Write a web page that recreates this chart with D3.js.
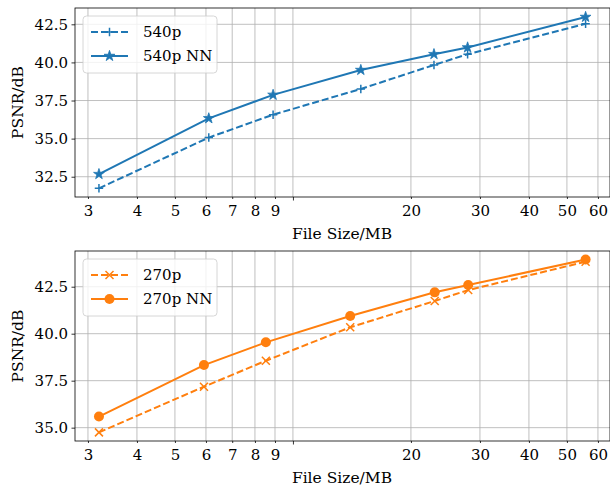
<!DOCTYPE html>
<html>
<head>
<meta charset="utf-8">
<script src="https://cdn.jsdelivr.net/npm/d3@7"></script>
<style>
  body { margin: 0; background: #fff; }
  svg text { font-family: "DejaVu Serif", "Liberation Serif", serif; fill: #000; }
</style>
</head>
<body>
<script>
// Values
var sizes540 = [3.2, 6.1, 8.9, 14.9, 22.9, 27.9, 55.8];
var psnr540 = [31.74, 35.07, 36.57, 38.26, 39.83, 40.54, 42.54];
var psnr540NN = [32.67, 36.33, 37.87, 39.5, 40.54, 40.98, 42.98];

var sizes270 = [3.2, 5.93, 8.53, 14.0, 23.0, 28.0, 55.8];
var psnr270 = [34.75, 37.18, 38.56, 40.34, 41.74, 42.32, 43.83];
var psnr270NN = [35.59, 38.33, 39.54, 40.94, 42.2, 42.59, 43.95];

var xTicks = [3, 4, 5, 6, 7, 8, 9, 10, 20, 30, 40, 50, 60];
var xTickLabels = ["3", "4", "5", "6", "7", "8", "9", "", "20", "30", "40", "50", "60"];
var yTicksTop = [32.5, 35.0, 37.5, 40.0, 42.5];
var yTicksBottom = [35.0, 37.5, 40.0, 42.5];

var svgWidth = 610;
var svgHeight = 489;

var svg = d3.select("body")
  .append("svg")
  .attr("width", svgWidth)
  .attr("height", svgHeight);

var dash = "7,3";
var lw = 2;

// draw one subplot
function drawPanel(opts) {
  var x = d3.scaleLog().domain([2.78, 64.4]).range([opts.left, opts.right]);
  var y = d3.scaleLinear().domain(opts.yDomain).range([opts.bottom, opts.top]);

  var g = svg.append("g");

  // grid
  g.selectAll(".gx").data(xTicks).enter().append("line")
    .attr("x1", d => x(d)).attr("x2", d => x(d))
    .attr("y1", opts.top).attr("y2", opts.bottom)
    .attr("stroke", "#b0b0b0").attr("stroke-width", 0.8);
  g.selectAll(".gy").data(opts.yTicks).enter().append("line")
    .attr("x1", opts.left).attr("x2", opts.right)
    .attr("y1", d => y(d)).attr("y2", d => y(d))
    .attr("stroke", "#b0b0b0").attr("stroke-width", 0.8);

  // x axis
  var xAxis = d3.axisBottom(x)
    .tickValues(xTicks)
    .tickSize(0)
    .tickPadding(0)
    .tickFormat((d, i) => xTickLabels[i]);
  var xg = g.append("g")
    .attr("transform", `translate(0, ${opts.bottom})`)
    .call(xAxis);
  xg.select(".domain").remove();
  xg.selectAll(".tick line")
    .attr("y2", d => d === 10 ? 3.5 : 2)
    .attr("stroke", "#000").attr("stroke-width", 0.8);
  xg.selectAll(".tick text")
    .attr("y", 8).attr("dy", "0.71em")
    .style("font-size", "15px");

  // y axis
  var yAxis = d3.axisLeft(y)
    .tickValues(opts.yTicks)
    .tickSize(3.5)
    .tickPadding(3.5)
    .tickFormat(d3.format(".1f"));
  var yg = g.append("g")
    .attr("transform", `translate(${opts.left}, 0)`)
    .call(yAxis);
  yg.select(".domain").remove();
  yg.selectAll(".tick line").attr("stroke", "#000").attr("stroke-width", 0.8);
  yg.selectAll(".tick text")
    .style("font-size", "15px");

  // lines
  var line = d3.line().x(d => x(d[0])).y(d => y(d[1]));
  var dashedData = d3.zip(opts.xs, opts.dashed);
  var solidData = d3.zip(opts.xs, opts.solid);

  g.append("path").datum(dashedData)
    .attr("d", line).attr("fill", "none")
    .attr("stroke", opts.color).attr("stroke-width", lw)
    .attr("stroke-dasharray", dash);
  g.append("path").datum(solidData)
    .attr("d", line).attr("fill", "none")
    .attr("stroke", opts.color).attr("stroke-width", lw);

  function marker(sel, type) {
    if (type === "plus") {
      sel.append("path").attr("d", "M-4.2,0H4.2M0,-4.2V4.2")
        .attr("stroke", opts.color).attr("stroke-width", 1.5).attr("fill", "none");
    } else if (type === "x") {
      sel.append("path").attr("d", "M-4,-4L4,4M-4,4L4,-4")
        .attr("stroke", opts.color).attr("stroke-width", 1.5).attr("fill", "none");
    } else if (type === "star") {
      sel.append("path").attr("d", d3.symbol().type(d3.symbolStar).size(36)())
        .attr("fill", opts.color).attr("stroke", opts.color).attr("stroke-width", 0.8);
    } else {
      sel.append("circle").attr("r", 5).attr("fill", opts.color);
    }
  }

  var m1 = g.selectAll(".m1").data(dashedData).enter().append("g")
    .attr("transform", d => `translate(${x(d[0])}, ${y(d[1])})`);
  marker(m1, opts.dashedMarker);
  var m2 = g.selectAll(".m2").data(solidData).enter().append("g")
    .attr("transform", d => `translate(${x(d[0])}, ${y(d[1])})`);
  marker(m2, opts.solidMarker);

  // spines
  g.append("rect")
    .attr("x", opts.left).attr("y", opts.top)
    .attr("width", opts.right - opts.left).attr("height", opts.bottom - opts.top)
    .attr("fill", "none").attr("stroke", "#000").attr("stroke-width", 0.8);

  // axis labels
  g.append("text")
    .attr("x", 342).attr("y", opts.bottom + 42)
    .attr("text-anchor", "middle")
    .style("font-size", "15.5px")
    .text("File Size/MB");
  g.append("text")
    .attr("transform", `translate(23, ${(opts.top + opts.bottom) / 2}) rotate(-90)`)
    .attr("text-anchor", "middle")
    .style("font-size", "15.5px")
    .text("PSNR/dB");

  // legend
  var lg = g.append("g").attr("transform", `translate(83, ${opts.top + 8})`);
  lg.append("rect")
    .attr("width", 134).attr("height", 57).attr("rx", 3.5)
    .attr("fill", "#fff").attr("fill-opacity", 0.8)
    .attr("stroke", "#cccccc").attr("stroke-width", 0.8);
  var entries = [
    { label: opts.labels[0], dash: dash, marker: opts.dashedMarker, y: 16 },
    { label: opts.labels[1], dash: null, marker: opts.solidMarker, y: 40 }
  ];
  entries.forEach(function(e) {
    lg.append("line")
      .attr("x1", 8).attr("x2", 45).attr("y1", e.y).attr("y2", e.y)
      .attr("stroke", opts.color).attr("stroke-width", lw)
      .attr("stroke-dasharray", e.dash);
    var mk = lg.append("g").attr("transform", `translate(26.5, ${e.y})`);
    marker(mk, e.marker);
    lg.append("text")
      .attr("x", 60).attr("y", e.y).attr("dy", "0.35em")
      .style("font-size", "15px")
      .text(e.label);
  });
}

drawPanel({
  left: 75, right: 610, top: 8, bottom: 197,
  yDomain: [31.17, 43.57], yTicks: yTicksTop,
  xs: sizes540, dashed: psnr540, solid: psnr540NN,
  color: "#1f77b4", dashedMarker: "plus", solidMarker: "star",
  labels: ["540p", "540p NN"]
});

drawPanel({
  left: 75, right: 610, top: 251, bottom: 441,
  yDomain: [34.29, 44.4], yTicks: yTicksBottom,
  xs: sizes270, dashed: psnr270, solid: psnr270NN,
  color: "#ff7f0e", dashedMarker: "x", solidMarker: "circle",
  labels: ["270p", "270p NN"]
});
</script>
</body>
</html>
